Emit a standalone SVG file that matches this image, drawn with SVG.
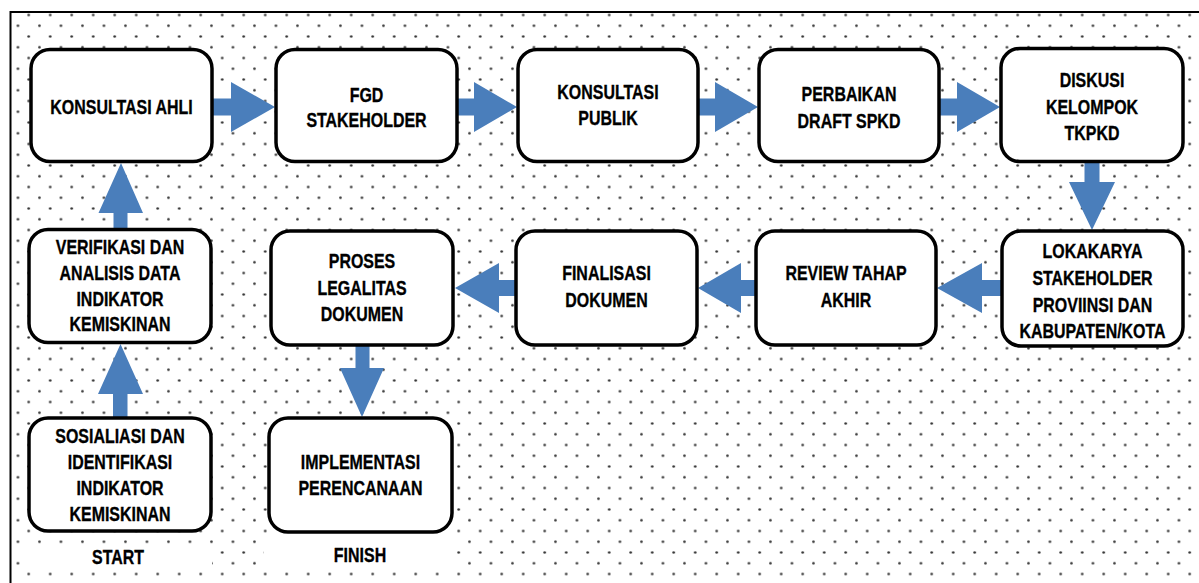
<svg xmlns="http://www.w3.org/2000/svg" width="1199" height="583" viewBox="0 0 1199 583">
<defs>
<pattern id="dots" patternUnits="userSpaceOnUse" x="1.825" y="9.625" width="21.5" height="21.5">
<circle cx="5.375" cy="5.375" r="1.3" fill="#333"/>
<circle cx="16.125" cy="16.125" r="1.3" fill="#333"/>
</pattern>
<style>
.box{fill:#fff;stroke:#000;stroke-width:3.5}
.arr{fill:#4A7EBB}
.t{font-family:"Liberation Sans",Arial,sans-serif;font-weight:bold;font-size:21px;fill:#000;stroke:#000;stroke-width:0.35;text-anchor:middle}
</style>
</defs>
<rect x="0" y="0" width="1199" height="583" fill="#fff"/>
<rect x="10.5" y="12" width="1200" height="600" fill="url(#dots)" stroke="#000" stroke-width="2"/>
<rect x="26" y="547" width="186" height="24" fill="#fff"/>
<rect x="264" y="540" width="190" height="30" fill="#fff"/>

<g id="connectors">
<polygon class="arr" points="212,98.5 231,98.5 231,82 275,107 231,132 231,115.5 212,115.5"/>
<polygon class="arr" points="457,98.5 474,98.5 474,82 517,107 474,132 474,115.5 457,115.5"/>
<polygon class="arr" points="698,98.5 715,98.5 715,82 758,107 715,132 715,115.5 698,115.5"/>
<polygon class="arr" points="939,98.5 957,98.5 957,82 1000,107 957,132 957,115.5 939,115.5"/>
<polygon class="arr" points="1084.5,163 1099.5,163 1099.5,182 1115,182 1092,230 1069,182 1084.5,182"/>
<polygon class="arr" points="1002,280 982,280 982,263 937,288 982,313 982,296 1002,296"/>
<polygon class="arr" points="756,280 741,280 741,263 698,288 741,313 741,296 756,296"/>
<polygon class="arr" points="516,280 499,280 499,263 455,288 499,313 499,296 516,296"/>
<polygon class="arr" points="355.5,346 369.5,346 369.5,368 384,368 362,417 340,368 355.5,368"/>
<polygon class="arr" points="113.5,229 127.5,229 127.5,213 143,213 121,163 98.5,213 113.5,213"/>
<polygon class="arr" points="113,418 127.5,418 127.5,394 143,394 120.5,344 98,394 113,394"/>
</g>

<g id="n1"><rect class="box" x="31" y="49.5" width="181" height="112" rx="19"/>
<g transform="translate(121.5 0) scale(0.76 1)"><text class="t" x="0" y="114">KONSULTASI AHLI</text></g></g>
<g id="n2"><rect class="box" x="276" y="49.5" width="181" height="112" rx="19"/>
<g transform="translate(366.5 0) scale(0.76 1)"><text class="t" x="0" y="102">FGD</text><text class="t" x="0" y="127">STAKEHOLDER</text></g></g>
<g id="n3"><rect class="box" x="518" y="49.5" width="180" height="112" rx="19"/>
<g transform="translate(608 0) scale(0.76 1)"><text class="t" x="0" y="99">KONSULTASI</text><text class="t" x="0" y="125">PUBLIK</text></g></g>
<g id="n4"><rect class="box" x="759" y="49.5" width="180" height="112" rx="19"/>
<g transform="translate(849 0) scale(0.76 1)"><text class="t" x="0" y="101">PERBAIKAN</text><text class="t" x="0" y="128">DRAFT SPKD</text></g></g>
<g id="n5"><rect class="box" x="1001" y="48.5" width="182" height="113" rx="19"/>
<g transform="translate(1092 0) scale(0.76 1)"><text class="t" x="0" y="87">DISKUSI</text><text class="t" x="0" y="114">KELOMPOK</text><text class="t" x="0" y="140">TKPKD</text></g></g>

<g id="n6"><rect class="box" x="29" y="229.5" width="182" height="113" rx="19"/>
<g transform="translate(120 0) scale(0.76 1)"><text class="t" x="0" y="254">VERIFIKASI DAN</text><text class="t" x="0" y="280">ANALISIS DATA</text><text class="t" x="0" y="306">INDIKATOR</text><text class="t" x="0" y="331">KEMISKINAN</text></g></g>
<g id="n7"><rect class="box" x="271" y="231" width="182" height="114" rx="19"/>
<g transform="translate(362 0) scale(0.76 1)"><text class="t" x="0" y="268">PROSES</text><text class="t" x="0" y="295">LEGALITAS</text><text class="t" x="0" y="321">DOKUMEN</text></g></g>
<g id="n8"><rect class="box" x="516" y="231" width="181" height="114" rx="19"/>
<g transform="translate(606.5 0) scale(0.76 1)"><text class="t" x="0" y="280">FINALISASI</text><text class="t" x="0" y="307">DOKUMEN</text></g></g>
<g id="n9"><rect class="box" x="756" y="231" width="180" height="114" rx="19"/>
<g transform="translate(846 0) scale(0.76 1)"><text class="t" x="0" y="280">REVIEW TAHAP</text><text class="t" x="0" y="307">AKHIR</text></g></g>
<g id="n10"><rect class="box" x="1002" y="231" width="181" height="115" rx="19"/>
<g transform="translate(1092.5 0) scale(0.76 1)"><text class="t" x="0" y="258">LOKAKARYA</text><text class="t" x="0" y="285">STAKEHOLDER</text><text class="t" x="0" y="312">PROVIINSI DAN</text><text class="t" x="0" y="338">KABUPATEN/KOTA</text></g></g>

<g id="n11"><rect class="box" x="29" y="418" width="182" height="113" rx="19"/>
<g transform="translate(120 0) scale(0.76 1)"><text class="t" x="0" y="443">SOSIALIASI DAN</text><text class="t" x="0" y="469">IDENTIFIKASI</text><text class="t" x="0" y="495">INDIKATOR</text><text class="t" x="0" y="521">KEMISKINAN</text></g></g>
<g id="n12"><rect class="box" x="269" y="418" width="183" height="114" rx="19"/>
<g transform="translate(360.5 0) scale(0.76 1)"><text class="t" x="0" y="469">IMPLEMENTASI</text><text class="t" x="0" y="495">PERENCANAAN</text></g></g>

<g id="labels">
<g transform="translate(118 0) scale(0.76 1)"><text class="t" x="0" y="564">START</text></g>
<g transform="translate(360 0) scale(0.76 1)"><text class="t" x="0" y="562">FINISH</text></g>
</g>
</svg>
